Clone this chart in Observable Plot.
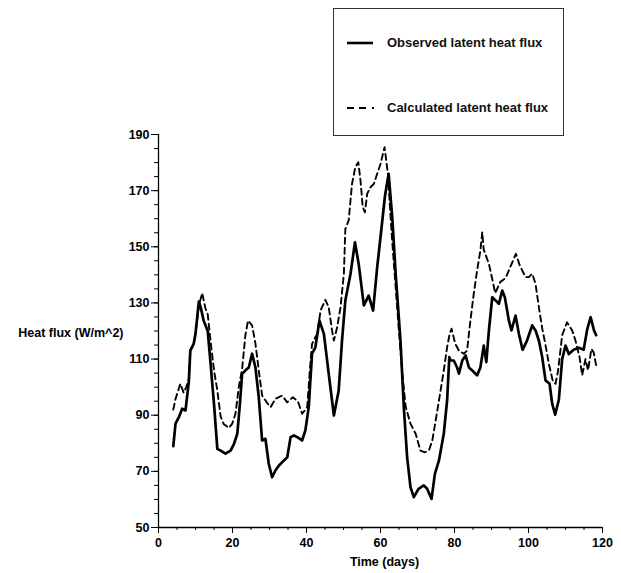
<!DOCTYPE html>
<html>
<head>
<meta charset="utf-8">
<script src="https://cdn.jsdelivr.net/npm/d3@7"></script>
<script src="https://cdn.jsdelivr.net/npm/@observablehq/plot@0.6"></script>
<style>
  html, body { margin: 0; padding: 0; background: #fff; }
  #wrap { position: relative; width: 621px; height: 573px; font-family: "Liberation Sans", Arial, sans-serif; }
  #legend { position: absolute; left: 333px; top: 8px; width: 231px; height: 128px; border: 1.3px solid #333; background: #fff; box-sizing: border-box; }
  .item { position: absolute; left: 0; display: flex; align-items: center; font-weight: bold; font-size: 13px; color: #111; white-space: nowrap; }
  .item svg { margin-left: 13px; margin-right: 12px; }
</style>
</head>
<body>
<div id="wrap">
  <div id="chart"></div>
  <div id="legend">
    <div class="item" style="top:26px"><svg width="28" height="10"><line x1="0" y1="5" x2="26" y2="5" stroke="#000" stroke-width="2.6"/></svg><span>Observed latent heat flux</span></div>
    <div class="item" style="top:91px"><svg width="28" height="10"><line x1="0" y1="5" x2="28" y2="5" stroke="#000" stroke-width="2" stroke-dasharray="7,5,7,6,2,100"/></svg><span>Calculated latent heat flux</span></div>
  </div>
</div>
<script>
const obsDays = [4,4.6,5.5,6.4,7.3,8.2,8.6,9.5,10,10.9,11.4,12.2,13.3,14,15,15.9,16.8,18.1,19.5,20.4,21.3,22,22.6,23.5,24.4,25.3,26.2,27.1,28,28.9,29.8,30.7,31.6,32.5,33.9,34.8,35.7,36.6,37.5,38.8,39.7,40.6,41.5,42.4,43.5,44.7,46,47.4,48.7,49.6,50.5,51.9,53.1,54.1,55.5,56.8,58,59.1,60,61.2,62.2,63.2,64.1,65.4,66.3,67.2,68.1,69,70.3,71.7,72.6,73.8,74.7,75.8,77.1,78,78.6,78.9,79.8,80.7,81.2,82.1,83,83.9,84.8,86.1,87,87.9,88.6,89.3,90.2,91.1,92,92.9,93.6,94.7,95.4,96.5,97.4,98.4,99.6,101,101.9,102.8,103.7,104.6,105.7,106.4,107.2,108.2,109.1,110,110.9,112.2,113.6,114.9,115.9,116.8,117.7,118.3];
const obsValues = [79,87,89.3,92.3,91.7,102,113,115.4,119,130.5,128.5,123.7,120,109.5,94,78,77.4,76.3,77.4,79.8,83.4,94,104.7,106,107,111.9,107,96.4,81,81.6,72.7,67.9,70.3,72,73.9,75,82.2,82.8,82.2,81,84.6,92.9,111.9,114.2,123.7,119,104.8,89.9,98.8,116.6,130.9,140.4,151.6,143.9,129.1,132.6,127.3,142.7,153.4,168,176,160,140.4,116.6,92.9,75,64.4,60.8,63.8,65,63.8,60.2,69.1,73.9,83.4,95.2,110.7,109.5,109.5,107,104.8,109.5,111.3,107,105.9,104.2,107,114.8,108.9,120.2,132,130.9,129.7,134.4,132,123.7,120.2,125.5,119,113.3,116.6,122,120.2,116.6,110.7,102.4,101.2,94.1,90.2,95.5,110,114.8,111.8,113.3,114,113.3,120.8,124.9,120.2,118.5];
const calcDays = [4,4.6,5.9,6.8,7.5,8.2,8.6,9.5,10,10.9,11.8,12.7,13.3,14.1,15,15.9,16.8,17.6,19,19.9,20.8,21.7,22.6,23.5,24.2,25.3,26.2,27.1,28,29.4,30.3,31.6,33.4,34.8,36.3,37.7,38.8,40.2,40.9,41.5,42.9,43.8,45.1,46,46.9,47.4,48.3,49.2,50.1,50.5,51.4,52.3,53.2,54,54.6,55.2,55.8,56.4,57.3,58.2,59.1,60,61.1,62,63,64.9,65.9,66.8,68.1,69.5,70.8,72,73.1,74,74.7,75.8,77.1,78,78.7,79.2,80.2,81.2,82.5,83.4,84.3,85.2,86.1,87,87.5,87.9,89.3,90.2,91,92.4,93.8,95.3,96.6,97.6,99.2,100.1,101,101.9,102.8,103.7,104.6,105.5,106.6,107.3,108,109.1,110.4,111.8,112.7,113.8,114.5,115.4,116.1,117,117.6,118.3];
const calcValues = [92,95.8,101.2,98,100,103,113,115.4,119,129,133.5,128,126,116,106,98.8,89.5,86.9,85.5,86.9,90.5,100,106.5,118.7,123.7,122,115.5,106,97,94.3,92.9,95.8,97,94.6,96.4,94.9,90.5,92.9,106,115.4,119,127.3,131.1,128.5,120.2,116.6,121.4,128.5,140.4,156.4,159.4,172.4,178.4,180.1,173.6,164.1,162.3,168.9,171.2,172.4,176,179.5,185.5,176,155,121.4,104.8,93,87,83.4,77.4,76.8,77.5,81,86.5,95.2,105.9,114.2,119,120.8,115.5,113,111.9,113,123.7,133.2,141.5,148.7,155.2,149,143.9,138.5,133.5,137.5,138.8,143.5,147.5,143.5,139.2,139.2,140.4,136.8,128.5,121,115,108.3,102,101.2,105.9,118.5,123.1,120.2,116.6,110.7,104.2,110,106,113.6,112.4,107.7];
const xTicks = [0, 20, 40, 60, 80, 100, 120];
const xMinor = d3.range(0, 121, 5);
const yTicks = [50, 70, 90, 110, 130, 150, 170, 190];
const yMinor = d3.range(50, 191, 5);

const chart = Plot.plot({
  width: 621,
  height: 573,
  marginLeft: 158,
  marginRight: 19,
  marginTop: 134,
  marginBottom: 46,
  style: { fontFamily: "'Liberation Sans', Arial, sans-serif", fontSize: "12.5px", fontWeight: "bold", color: "#000", background: "#fff" },
  x: { domain: [0, 120] },
  y: { domain: [50, 190] },
  marks: [
    Plot.axisX(xMinor, { tickSize: 3, tickFormat: () => "", label: null }),
    Plot.axisX(xTicks, { tickSize: 6, tickPadding: 5, label: null }),
    Plot.axisY(yMinor, { tickSize: 4, tickFormat: () => "", label: null }),
    Plot.axisY(yTicks, { tickSize: 7, tickPadding: 2, label: null }),
    Plot.ruleX([0], { stroke: "#000", strokeWidth: 1.3 }),
    Plot.ruleY([50], { stroke: "#000", strokeWidth: 1.3 }),
    Plot.line(calcValues, { x: (d, i) => calcDays[i], y: d => d, stroke: "#000", strokeWidth: 1.9, strokeDasharray: "6,4", strokeLinejoin: "round" }),
    Plot.line(obsValues, { x: (d, i) => obsDays[i], y: d => d, stroke: "#000", strokeWidth: 2.7, strokeLinejoin: "round", strokeLinecap: "round" }),
    Plot.text(["Heat flux (W/m^2)"], { frameAnchor: "left", textAnchor: "end", dx: -35, dy: 2, fontWeight: "bold" }),
    Plot.text(["Time (days)"], { frameAnchor: "bottom", dy: 38, dx: 4, fontWeight: "bold" })
  ]
});
document.getElementById("chart").appendChild(chart);
</script>
</body>
</html>
